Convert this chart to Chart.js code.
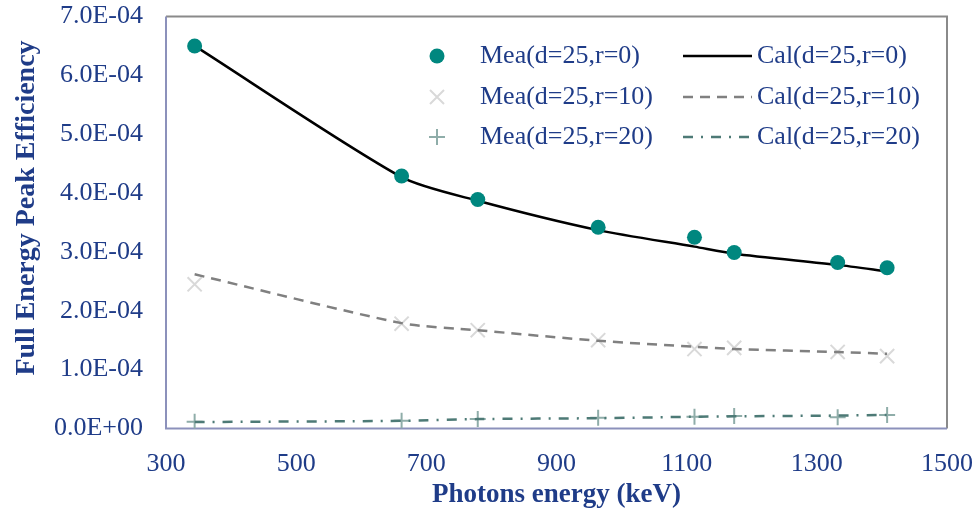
<!DOCTYPE html>
<html>
<head>
<meta charset="utf-8">
<script src="https://cdn.jsdelivr.net/npm/chart.js@4"></script>
<style>
  body { margin: 0; background: #fff; }
  #wrap { width: 978px; height: 514px; position: relative; }
</style>
</head>
<body>
<div id="wrap"><canvas id="myChart"></canvas></div>
<script>
// energies (keV) and efficiencies
var energies = [344, 662, 779, 964, 1112, 1173, 1332, 1408];
var mea0  = [6.50e-4, 4.29e-4, 3.89e-4, 3.42e-4, 3.25e-4, 2.99e-4, 2.82e-4, 2.73e-4];
var cal0  = [6.50e-4, 4.27e-4, 3.87e-4, 3.37e-4, 3.09e-4, 2.97e-4, 2.78e-4, 2.67e-4];
var mea10 = [2.45e-4, 1.78e-4, 1.67e-4, 1.50e-4, 1.35e-4, 1.37e-4, 1.30e-4, 1.23e-4];
var cal10 = [2.62e-4, 1.79e-4, 1.67e-4, 1.49e-4, 1.39e-4, 1.35e-4, 1.30e-4, 1.27e-4];
var mea20 = [1.16e-5, 1.33e-5, 1.61e-5, 1.83e-5, 2.00e-5, 2.12e-5, 1.90e-5, 2.29e-5];
var cal20 = [1.10e-5, 1.30e-5, 1.60e-5, 1.75e-5, 2.00e-5, 2.07e-5, 2.20e-5, 2.30e-5];

var xTicks = [300, 500, 700, 900, 1100, 1300, 1500];
var yTicks = [0, 1e-4, 2e-4, 3e-4, 4e-4, 5e-4, 6e-4, 7e-4];

var textColor = '#1F3C88';
var fontFamily = "'Liberation Serif', 'Times New Roman', serif";

function pts(ys) {
  return energies.map(function (e, i) { return { x: e, y: ys[i] }; });
}

function sci(v) {
  if (Math.abs(v) < 1e-12) return '0.0E+00';
  var e = Math.floor(Math.log10(Math.abs(v)) + 1e-9);
  var m = v / Math.pow(10, e);
  return m.toFixed(1) + 'E' + (e < 0 ? '-' : '+') + String(Math.abs(e)).padStart(2, '0');
}

var dMea0 = { label: 'Mea(d=25,r=0)', data: pts(mea0), showLine: false, pointStyle: 'circle',
  pointRadius: 7.5, pointBackgroundColor: '#00877F', pointBorderColor: '#00877F', pointBorderWidth: 0 };
var dMea10 = { label: 'Mea(d=25,r=10)', data: pts(mea10), showLine: false, pointStyle: 'crossRot',
  pointRadius: 10, pointBorderColor: '#D9D9D9', pointBorderWidth: 2 };
var dMea20 = { label: 'Mea(d=25,r=20)', data: pts(mea20), showLine: false, pointStyle: 'cross',
  pointRadius: 8, pointBorderColor: '#8FADA9', pointBorderWidth: 2 };
var dCal0 = { label: 'Cal(d=25,r=0)', data: pts(cal0), showLine: true, pointRadius: 0,
  borderColor: '#000000', borderWidth: 2.5, tension: 0.25 };
var dCal10 = { label: 'Cal(d=25,r=10)', data: pts(cal10), showLine: true, pointRadius: 0,
  borderColor: '#808080', borderWidth: 2.5, borderDash: [10, 7], tension: 0.25 };
var dCal20 = { label: 'Cal(d=25,r=20)', data: pts(cal20), showLine: true, pointRadius: 0,
  borderColor: '#4D7A76', borderWidth: 2.5, borderDash: [10, 8, 2, 8], tension: 0.25 };

// plot frame: left/bottom bluish, top/right grey
var framePlugin = {
  id: 'frame',
  beforeDatasetsDraw: function (chart) {
    var a = chart.chartArea, c = chart.ctx;
    c.save();
    c.lineWidth = 2;
    c.strokeStyle = '#8A8A8A';
    c.beginPath();
    c.moveTo(a.left, a.top); c.lineTo(a.right, a.top); c.lineTo(a.right, a.bottom);
    c.stroke();
    c.strokeStyle = '#8C91BB';
    c.beginPath();
    c.moveTo(a.left, a.top); c.lineTo(a.left, a.bottom); c.lineTo(a.right, a.bottom);
    c.stroke();
    c.restore();
  }
};

// y axis title, sits a bit above the plot centre like the original
var yTitlePlugin = {
  id: 'yTitle',
  afterDraw: function (chart) {
    var c = chart.ctx;
    c.save();
    c.translate(27, 208);
    c.rotate(-Math.PI / 2);
    c.font = 'bold 28px ' + fontFamily;
    c.fillStyle = textColor;
    c.textAlign = 'center';
    c.textBaseline = 'middle';
    c.fillText('Full Energy Peak Efficiency', 0, 0);
    c.restore();
  }
};

// two-column legend inside the plot
var legendPlugin = {
  id: 'innerLegend',
  afterDraw: function (chart) {
    var c = chart.ctx;
    var rows = [56, 97, 137];
    var meas = [dMea0, dMea10, dMea20];
    var cals = [dCal0, dCal10, dCal20];
    var mx = 437;
    c.save();
    c.font = '26px ' + fontFamily;
    c.textBaseline = 'middle';
    rows.forEach(function (y, i) {
      var m = meas[i];
      c.fillStyle = m.pointBackgroundColor || 'rgba(0,0,0,0)';
      c.strokeStyle = m.pointBorderColor;
      c.lineWidth = m.pointBorderWidth;
      c.beginPath();
      if (m.pointStyle === 'circle') {
        c.arc(mx, y, m.pointRadius, 0, Math.PI * 2); c.fill();
      } else if (m.pointStyle === 'crossRot') {
        var r = m.pointRadius * 0.7;
        c.moveTo(mx - r, y - r); c.lineTo(mx + r, y + r);
        c.moveTo(mx - r, y + r); c.lineTo(mx + r, y - r); c.stroke();
      } else {
        var r2 = m.pointRadius;
        c.moveTo(mx - r2, y); c.lineTo(mx + r2, y);
        c.moveTo(mx, y - r2); c.lineTo(mx, y + r2); c.stroke();
      }
      c.fillStyle = textColor;
      c.fillText(m.label, 480, y);

      var l = cals[i];
      c.strokeStyle = l.borderColor;
      c.lineWidth = l.borderWidth;
      c.setLineDash(l.borderDash || []);
      c.beginPath();
      c.moveTo(683, y); c.lineTo(752, y); c.stroke();
      c.setLineDash([]);
      c.fillText(l.label, 757, y);
    });
    c.restore();
  }
};

var ctx = document.getElementById('myChart').getContext('2d');
var myChart = new Chart(ctx, {
  type: 'scatter',
  data: { datasets: [dMea0, dCal10, dCal20, dCal0, dMea10, dMea20] },
  options: {
    responsive: true,
    maintainAspectRatio: false,
    animation: false,
    layout: { padding: 0 },
    plugins: { legend: { display: false }, tooltip: { enabled: false } },
    scales: {
      x: {
        type: 'linear', min: 300, max: 1500,
        afterBuildTicks: function (s) { s.ticks = xTicks.map(function (v) { return { value: v }; }); },
        afterFit: function (s) {
          s.height = 85.5;
          s.paddingLeft = 0;
          s.paddingRight = 31;
        },
        grid: { display: false, drawTicks: false },
        border: { display: false },
        ticks: { color: textColor, font: { family: fontFamily, size: 26 }, padding: 20, maxRotation: 0,
          callback: function (v) { return String(v); } },
        title: { display: true, text: 'Photons energy (keV)', color: textColor,
          font: { family: fontFamily, size: 27, weight: 'bold' }, padding: { top: 0, bottom: 3 } }
      },
      y: {
        min: 0, max: 7e-4,
        afterBuildTicks: function (s) { s.ticks = yTicks.map(function (v) { return { value: v }; }); },
        afterFit: function (s) {
          s.width = 166;
          s.paddingTop = 16.5;
          s.paddingBottom = 0;
        },
        grid: { display: false, drawTicks: false },
        border: { display: false },
        ticks: { color: textColor, font: { family: fontFamily, size: 26 }, padding: 23,
          callback: function (v) { return sci(v); } },
        title: { display: false }
      }
    }
  },
  plugins: [framePlugin, yTitlePlugin, legendPlugin]
});
</script>
</body>
</html>
